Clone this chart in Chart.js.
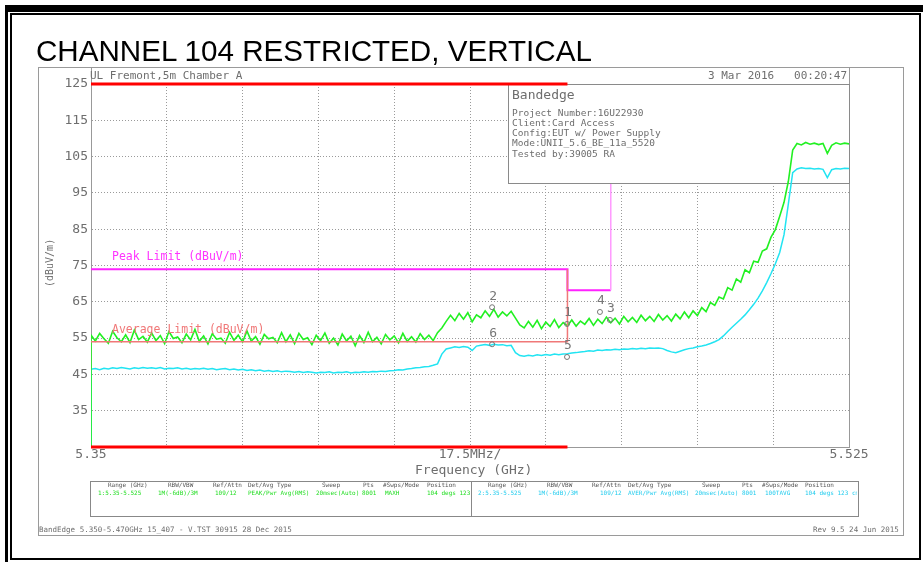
<!DOCTYPE html>
<html>
<head>
<meta charset="utf-8">
<script src="https://cdn.jsdelivr.net/npm/chart.js@4"></script>
<style>
  body { margin: 0; background: #fff; }
  #wrap { position: relative; width: 923px; height: 562px; overflow: hidden; }
  .blk { position: absolute; background: #000; }
  .t { position: absolute; white-space: pre; line-height: 1; font-family: "DejaVu Sans Mono", monospace; color: #6e6e6e; }
  .half { position: absolute; top: 481px; height: 35px; overflow: hidden; }
  canvas { position: absolute; left: 0; top: 0; }
</style>
</head>
<body>
<div id="wrap">
  <!-- outer black frame -->
  <div class="blk" style="left:5px;top:5px;width:918px;height:7px"></div>
  <div class="blk" style="left:5px;top:5px;width:3px;height:557px"></div>
  <div style="position:absolute;left:10px;top:13px;width:907px;height:543px;border:2px solid #000"></div>
  <!-- grey instrument frame -->
  <div style="position:absolute;left:38px;top:67px;width:864px;height:467px;border:1px solid #9a9a9a"></div>

  <canvas id="c" width="923" height="562"></canvas>

  <div class="t" style="left:36px;top:36px;font-family:'Liberation Sans',Arial,sans-serif;font-size:29.6px;color:#000">CHANNEL 104 RESTRICTED, VERTICAL</div>
  <div class="t" style="left:90px;top:70px;font-size:11px">UL Fremont,5m Chamber A</div>
  <div class="t" style="left:708px;top:70px;font-size:11px">3 Mar 2016   00:20:47</div>

  <div class="t" style="left:512px;top:88px;font-size:13px">Bandedge</div>
  <div class="t" style="left:512px;top:108px;font-size:9.5px">Project Number:16U22930</div>
  <div class="t" style="left:512px;top:118px;font-size:9.5px">Client:Card Access</div>
  <div class="t" style="left:512px;top:128px;font-size:9.5px">Config:EUT w/ Power Supply</div>
  <div class="t" style="left:512px;top:138px;font-size:9.5px">Mode:UNII_5.6_BE_11a_5520</div>
  <div class="t" style="left:512px;top:149px;font-size:9.5px">Tested by:39005 RA</div>

  <div class="t" style="left:112px;top:251px;font-size:11.5px;color:#ff33ff">Peak Limit (dBuV/m)</div>
  <div class="t" style="left:112px;top:324px;font-size:11.5px;color:#f07878">Average Limit (dBuV/m)</div>

  <div class="t" style="left:26px;top:258px;width:48px;font-size:10px;transform:rotate(-90deg)">(dBuV/m)</div>
  <div class="t" style="left:415px;top:463px;font-size:13px">Frequency (GHz)</div>

  <!-- settings table -->
  <div style="position:absolute;left:90px;top:481px;width:767px;height:34px;border:1px solid #888"></div>
  <div style="position:absolute;left:471px;top:481px;width:1px;height:35px;background:#888"></div>
  <div class="half" style="left:91px;width:380px">
    <div class="t" style="left:17px;top:1px;font-size:6px;color:#555">Range (GHz)</div>
    <div class="t" style="left:77px;top:1px;font-size:6px;color:#555">RBW/VBW</div>
    <div class="t" style="left:122px;top:1px;font-size:6px;color:#555">Ref/Attn</div>
    <div class="t" style="left:157px;top:1px;font-size:6px;color:#555">Det/Avg Type</div>
    <div class="t" style="left:231px;top:1px;font-size:6px;color:#555">Sweep</div>
    <div class="t" style="left:272px;top:1px;font-size:6px;color:#555">Pts</div>
    <div class="t" style="left:292px;top:1px;font-size:6px;color:#555">#Swps/Mode</div>
    <div class="t" style="left:336px;top:1px;font-size:6px;color:#555">Position</div>
    <div class="t" style="left:7px;top:9px;font-size:6px;color:#22dd22">1:5.35-5.525</div>
    <div class="t" style="left:67px;top:9px;font-size:6px;color:#22dd22">1M(-6dB)/3M</div>
    <div class="t" style="left:124px;top:9px;font-size:6px;color:#22dd22">109/12</div>
    <div class="t" style="left:157px;top:9px;font-size:6px;color:#22dd22">PEAK/Pwr Avg(RMS)</div>
    <div class="t" style="left:225px;top:9px;font-size:6px;color:#22dd22">20msec(Auto)</div>
    <div class="t" style="left:271px;top:9px;font-size:6px;color:#22dd22">8001</div>
    <div class="t" style="left:294px;top:9px;font-size:6px;color:#22dd22">MAXH</div>
    <div class="t" style="left:336px;top:9px;font-size:6px;color:#22dd22">104 degs 123 cm</div>
  </div>
  <div class="half" style="left:472px;width:385px">
    <div class="t" style="left:16px;top:1px;font-size:6px;color:#555">Range (GHz)</div>
    <div class="t" style="left:75px;top:1px;font-size:6px;color:#555">RBW/VBW</div>
    <div class="t" style="left:120px;top:1px;font-size:6px;color:#555">Ref/Attn</div>
    <div class="t" style="left:156px;top:1px;font-size:6px;color:#555">Det/Avg Type</div>
    <div class="t" style="left:230px;top:1px;font-size:6px;color:#555">Sweep</div>
    <div class="t" style="left:270px;top:1px;font-size:6px;color:#555">Pts</div>
    <div class="t" style="left:290px;top:1px;font-size:6px;color:#555">#Swps/Mode</div>
    <div class="t" style="left:333px;top:1px;font-size:6px;color:#555">Position</div>
    <div class="t" style="left:6px;top:9px;font-size:6px;color:#22ccee">2:5.35-5.525</div>
    <div class="t" style="left:66px;top:9px;font-size:6px;color:#22ccee">1M(-6dB)/3M</div>
    <div class="t" style="left:128px;top:9px;font-size:6px;color:#22ccee">109/12</div>
    <div class="t" style="left:156px;top:9px;font-size:6px;color:#22ccee">AVER/Pwr Avg(RMS)</div>
    <div class="t" style="left:223px;top:9px;font-size:6px;color:#22ccee">20msec(Auto)</div>
    <div class="t" style="left:270px;top:9px;font-size:6px;color:#22ccee">8001</div>
    <div class="t" style="left:293px;top:9px;font-size:6px;color:#22ccee">100TAVG</div>
    <div class="t" style="left:333px;top:9px;font-size:6px;color:#22ccee">104 degs 123 cm</div>
  </div>

  <div class="t" style="left:39px;top:526px;font-size:7.5px">BandEdge 5.350-5.470GHz 15_407 - V.TST 30915 28 Dec 2015</div>
  <div class="t" style="left:813px;top:526px;font-size:7.5px">Rev 9.5 24 Jun 2015</div>
</div>

<script>
// sweep points (GHz), first point repeated: trace starts from the bottom of the screen
const freqGHz = [
  5.350, 5.350, 5.351, 5.352, 5.353, 5.354, 5.355, 5.356, 5.357, 5.358, 5.359,
  5.360, 5.361, 5.362, 5.363, 5.364, 5.365, 5.366, 5.367, 5.368, 5.369,
  5.370, 5.371, 5.372, 5.373, 5.374, 5.375, 5.376, 5.377, 5.378, 5.379,
  5.380, 5.381, 5.382, 5.383, 5.384, 5.385, 5.386, 5.387, 5.388, 5.389,
  5.390, 5.391, 5.392, 5.393, 5.394, 5.395, 5.396, 5.397, 5.398, 5.399,
  5.400, 5.401, 5.402, 5.403, 5.404, 5.405, 5.406, 5.407, 5.408, 5.409,
  5.410, 5.411, 5.412, 5.413, 5.414, 5.415, 5.416, 5.417, 5.418, 5.419,
  5.420, 5.421, 5.422, 5.423, 5.424, 5.425, 5.426, 5.427, 5.428, 5.429,
  5.430, 5.431, 5.432, 5.433, 5.434, 5.435, 5.436, 5.437, 5.438, 5.439,
  5.440, 5.441, 5.442, 5.443, 5.444, 5.445, 5.446, 5.447, 5.448, 5.449,
  5.450, 5.451, 5.452, 5.453, 5.454, 5.455, 5.456, 5.457, 5.458, 5.459,
  5.460, 5.461, 5.462, 5.463, 5.464, 5.465, 5.466, 5.467, 5.468, 5.469,
  5.470, 5.471, 5.472, 5.473, 5.474, 5.475, 5.476, 5.477, 5.478, 5.479,
  5.480, 5.481, 5.482, 5.483, 5.484, 5.485, 5.486, 5.487, 5.488, 5.489,
  5.490, 5.491, 5.492, 5.493, 5.494, 5.495, 5.496, 5.497, 5.498, 5.499,
  5.500, 5.501, 5.502, 5.503, 5.504, 5.505, 5.506, 5.507, 5.508, 5.509,
  5.510, 5.511, 5.512, 5.513, 5.514, 5.515, 5.516, 5.517, 5.518, 5.519,
  5.520, 5.521, 5.522, 5.523, 5.524, 5.525
];

// trace 1 : peak (MAXH), dBuV/m
const peakTrace = [
  25,
  55.8, 54.2, 56.3, 54.8, 53.6, 56.9, 55.1, 54.0, 55.9, 53.8,
  57.2, 54.6, 55.5, 53.9, 56.4, 54.3, 55.7, 53.5, 56.8, 54.9,
  55.3, 53.7, 56.1, 54.5, 57.4, 54.1, 55.6, 53.4, 56.2, 54.7,
  55.0, 53.6, 56.6, 54.4, 55.8, 53.9, 57.0, 54.2, 55.4, 53.3,
  56.0, 54.8, 55.2, 53.7, 56.5, 54.0, 55.9, 53.5, 56.3, 54.6,
  55.1, 53.2, 55.8, 54.3, 56.4, 53.6, 55.0, 53.1, 56.1, 54.2,
  55.5, 52.9, 55.7, 53.8, 56.6, 54.0, 55.2, 53.4, 56.0, 54.5,
  55.6, 53.7, 56.3, 54.1, 55.4, 53.9, 56.2, 54.6, 55.8, 54.3,
  56.5, 57.8, 59.6, 61.3, 59.8, 61.8, 60.2, 62.0, 59.5, 61.4,
  60.6, 62.5, 61.0, 62.9, 60.8, 62.2, 61.1, 62.4, 60.5, 58.6,
  57.8, 59.6, 58.0, 59.9, 57.6, 59.4, 58.2, 60.1, 57.9, 59.3,
  58.4, 60.0, 58.3, 59.7, 58.8, 60.4, 58.5, 60.2, 59.0, 60.8,
  59.2, 60.5, 58.9, 61.0, 59.5, 60.7, 59.3, 61.3, 59.8, 61.0,
  59.6, 61.5, 60.0, 61.2, 59.7, 61.6, 60.3, 62.2, 60.6, 62.5,
  61.2, 63.4, 62.3, 64.8, 64.0, 66.3, 65.8, 68.9, 68.2, 71.3,
  70.4, 73.8, 73.0, 76.2, 75.9, 79.0, 79.6, 82.8, 84.9, 88.6,
  92.4, 98.2, 106.8, 108.6, 108.2, 108.9, 108.4, 108.7, 108.3, 108.6,
  105.9, 108.1, 108.8, 108.4, 108.7, 108.5
];

// trace 2 : average (100 TAVG), dBuV/m
const avgTrace = [
  25,
  46.4, 46.6, 46.3, 46.7, 46.5, 46.8, 46.6, 46.9, 46.7, 46.5,
  46.8, 46.6, 46.9, 46.7, 46.8, 46.6, 46.9, 46.5, 46.7, 46.6,
  46.8, 46.5, 46.7, 46.4, 46.6, 46.5, 46.7, 46.4, 46.6, 46.3,
  46.5, 46.6, 46.3, 46.5, 46.2, 46.4, 46.1, 46.3, 46.0, 46.2,
  45.9, 46.1, 45.8, 46.0, 45.7, 45.9, 45.8, 45.6, 45.8, 45.5,
  45.7, 45.6, 45.4, 45.6, 45.5, 45.7, 45.4, 45.6, 45.5, 45.7,
  45.4, 45.6, 45.5, 45.7, 45.6, 45.8, 45.7, 45.9, 45.8, 46.0,
  46.1, 46.3, 46.2, 46.5, 46.6, 46.8, 46.9, 47.1, 47.2, 47.5,
  47.9, 50.6, 52.0, 52.3, 52.6, 52.4, 52.7, 52.5, 51.6, 52.8,
  53.0, 53.2, 53.0, 53.3, 53.1, 53.2, 52.9, 53.0, 51.0, 50.2,
  50.0, 50.3, 50.1, 50.4, 50.2, 50.5, 50.3, 50.6, 50.4, 50.6,
  50.7, 50.9, 51.0, 51.2, 51.3, 51.5, 51.4, 51.7, 51.6, 51.8,
  51.7, 51.9, 51.8, 52.0, 51.9, 52.1, 52.0, 52.2, 52.1, 52.3,
  52.2, 52.3, 52.1, 51.6, 51.2, 51.0, 51.4, 51.8, 52.1, 52.3,
  52.6, 52.8, 53.1, 53.5, 54.0, 54.6, 55.6, 56.8, 58.0, 59.1,
  60.2, 61.4, 62.8, 64.3, 66.0, 68.0, 70.3, 72.8, 75.5, 78.6,
  83.5, 92.0, 100.6, 101.6, 101.9, 101.7, 101.8, 101.6, 101.7, 101.5,
  99.2, 101.4, 101.7, 101.6, 101.8, 101.7
];

// limit lines [GHz, dBuV/m]
const peakLimit = [[5.35, 74], [5.46, 74], [5.46, 68.2], [5.47, 68.2], [5.47, 125]];
const avgLimit = [[5.35, 54], [5.46, 54], [5.46, 74]];
const restrictedBand = [5.35, 5.46];

// markers
const markerIds = ['1', '2', '3', '4', '5', '6'];
const markerFreq = [5.4599, 5.4426, 5.4698, 5.4675, 5.4599, 5.4426];
const markerLevel = [58.9, 63.5, 60.0, 62.2, 49.8, 53.3];

const xTickLabels = ['5.35', '', '', '', '', '17.5MHz/', '', '', '', '', '5.525'];

const toXY = arr => arr.map(p => ({ x: p[0], y: p[1] }));

const boxPlugin = {
  id: 'frameAndBox',
  beforeDatasetsDraw(chart) {
    const { ctx, chartArea: a } = chart;
    ctx.save();
    ctx.strokeStyle = '#999';
    ctx.lineWidth = 1;
    ctx.beginPath();
    ctx.moveTo(a.right + 0.5, a.top - 17);
    ctx.lineTo(a.right + 0.5, a.bottom);
    ctx.moveTo(a.left + 0.5, a.top - 17);
    ctx.lineTo(a.left + 0.5, a.top);
    ctx.stroke();
    ctx.restore();
  },
  beforeDatasetDraw(chart, args) {
    // info box sits over the limit lines but under the traces
    if (chart.data.datasets[args.index].label !== 'avg') return;
    const { ctx, chartArea: a } = chart;
    const left = a.right - 341, top = a.top, h = 99;
    ctx.save();
    ctx.fillStyle = '#fff';
    ctx.fillRect(left, top, a.right - left, h);
    ctx.strokeStyle = '#8a8a8a';
    ctx.lineWidth = 1;
    ctx.strokeRect(left + 0.5, top + 0.5, a.right - left, h);
    ctx.restore();
  },
  afterDatasetsDraw(chart) {
    const { ctx } = chart;
    const meta = chart.getDatasetMeta(chart.data.datasets.findIndex(d => d.label === 'markers'));
    ctx.save();
    ctx.fillStyle = '#777';
    ctx.font = '13px "DejaVu Sans Mono"';
    ctx.textAlign = 'center';
    ctx.textBaseline = 'middle';
    meta.data.forEach((pt, i) => {
      ctx.fillText(markerIds[i], pt.x + 1, pt.y - 11);
    });
    ctx.restore();
  }
};

new Chart(document.getElementById('c'), {
  type: 'line',
  data: {
    labels: freqGHz,
    datasets: [
      { label: 'markers', data: markerFreq.map((f, i) => ({ x: f, y: markerLevel[i] })), showLine: false,
        pointRadius: 2.5, pointBorderWidth: 1, pointBorderColor: '#777', pointBackgroundColor: 'rgba(0,0,0,0)', order: 1 },
      { label: 'rbTop', data: restrictedBand.map(f => ({ x: f, y: 125 })), borderColor: '#ff0000', borderWidth: 3,
        pointRadius: 0, clip: false, order: 2 },
      { label: 'rbBottom', data: restrictedBand.map(f => ({ x: f, y: 25 })), borderColor: '#ff0000', borderWidth: 3,
        pointRadius: 0, clip: false, order: 3 },
      { label: 'avgLimit', data: toXY(avgLimit), borderColor: '#f07878', borderWidth: 1.5, pointRadius: 0, order: 4 },
      { label: 'peak', data: peakTrace, borderColor: '#22f022', borderWidth: 1.6, pointRadius: 0, order: 5 },
      { label: 'avg', data: avgTrace, borderColor: '#22e4f2', borderWidth: 1.5, pointRadius: 0, order: 6 },
      { label: 'peakLimit', data: toXY(peakLimit), borderColor: '#ff22ff', borderWidth: 2, pointRadius: 0, order: 7,
        segment: {
          borderColor: c => (c.p0DataIndex === 3 ? '#ff99ff' : undefined),
          borderWidth: c => (c.p0DataIndex === 3 ? 1.5 : undefined)
        } }
    ]
  },
  options: {
    responsive: false,
    animation: false,
    devicePixelRatio: 1,
    layout: { padding: { top: 84, right: 74, left: 0, bottom: 0 } },
    plugins: { legend: { display: false }, tooltip: { enabled: false } },
    elements: { line: { tension: 0 } },
    scales: {
      x: {
        type: 'linear', min: 5.35, max: 5.525,
        afterFit: s => { s.height = 115; },
        grid: { color: '#9a9a9a', drawTicks: false },
        border: { display: true, color: '#999', dash: [1, 2] },
        ticks: {
          stepSize: 0.0175, autoSkip: false, maxRotation: 0, padding: 0,
          color: '#6e6e6e', font: { family: 'DejaVu Sans Mono', size: 13 },
          callback: (v, i) => xTickLabels[i]
        }
      },
      y: {
        min: 25, max: 125,
        afterFit: s => { s.width = 91; },
        grid: { color: '#9a9a9a', drawTicks: false },
        border: { display: true, color: '#999', dash: [1, 2] },
        ticks: {
          stepSize: 10, padding: 3,
          color: '#6e6e6e', font: { family: 'DejaVu Sans Mono', size: 13 },
          callback: v => (v === 25 ? '' : v)
        }
      }
    }
  },
  plugins: [boxPlugin]
});
</script>
</body>
</html>
